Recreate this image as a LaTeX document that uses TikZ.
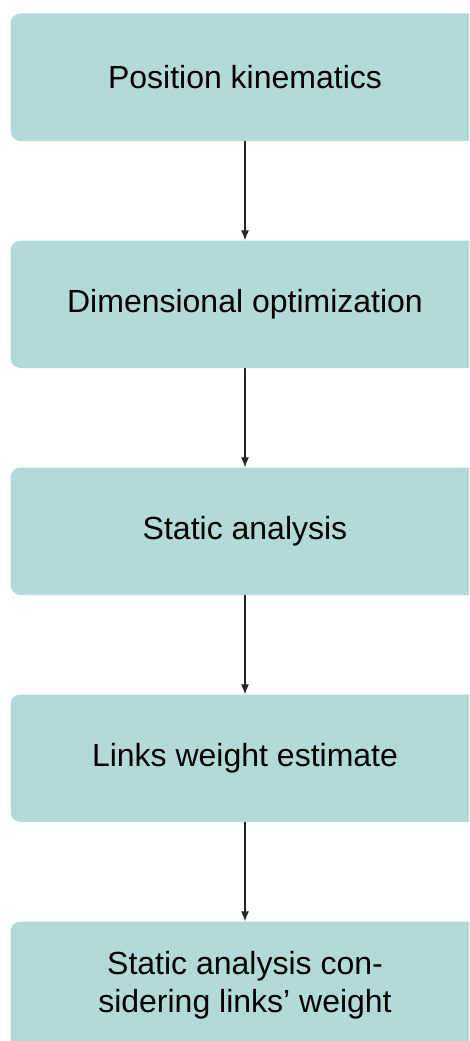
\documentclass[tikz,border=0pt]{standalone}
\usepackage{fontspec}
\setmainfont{Liberation Sans}
\usetikzlibrary{arrows.meta}
\definecolor{boxfill}{HTML}{B3DADA}
\begin{document}
\begin{tikzpicture}[x=1pt,y=-1pt,
  stagebox/.style={fill=boxfill, rounded corners=10pt, minimum width=469pt,
    minimum height=127.5pt, inner sep=0pt, align=center,
    font=\fontsize{32}{38}\selectfont},
  flow/.style={line width=1.1pt, draw=black!85, -{Latex[length=10pt,width=8pt]}}]
  \useasboundingbox (0,0) rectangle (469,1041);
  \clip (0,0) rectangle (469,1041);
  \node[stagebox] (pk) at (245,77.25) {Position kinematics};
  \node[stagebox] (dopt) at (245,304.25) {Dimensional optimization};
  \node[stagebox] (sa) at (245,531.25) {Static analysis};
  \node[stagebox] (lwe) at (245,758.25) {Links weight estimate};
  \node[stagebox] (salw) at (245,985.25) {Static analysis con-\\sidering links’ weight};
  \draw[flow] (pk) -- (dopt);
  \draw[flow] (dopt) -- (sa);
  \draw[flow] (sa) -- (lwe);
  \draw[flow] (lwe) -- (salw);
\end{tikzpicture}
\end{document}
